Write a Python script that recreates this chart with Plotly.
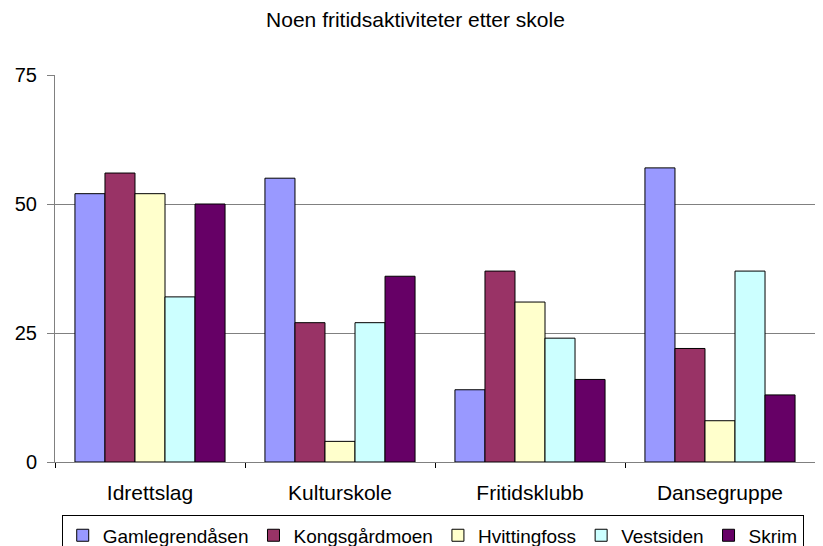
import plotly.graph_objects as go

categories = ["Idrettslag", "Kulturskole", "Fritidsklubb", "Dansegruppe"]

gamlegrendasen = [52, 55, 14, 57]
kongsgardmoen = [56, 27, 37, 22]
hvittingfoss = [52, 4, 31, 8]
vestsiden = [32, 27, 24, 37]
skrim = [50, 36, 16, 13]

series = [
    ("Gamlegrendåsen", gamlegrendasen, "#9999FF"),
    ("Kongsgårdmoen", kongsgardmoen, "#993366"),
    ("Hvittingfoss", hvittingfoss, "#FFFFCC"),
    ("Vestsiden", vestsiden, "#CCFFFF"),
    ("Skrim", skrim, "#660066"),
]

fig = go.Figure()
for name, vals, color in series:
    fig.add_trace(go.Bar(
        name=name, x=categories, y=vals,
        marker=dict(color=color, line=dict(color="black", width=1)),
    ))

# page body has an 8px margin, so the figure is 8px smaller than the window
fig.update_layout(
    width=815, height=538,
    paper_bgcolor="white", plot_bgcolor="white",
    font=dict(family="Liberation Sans, Arial, sans-serif", color="black", size=20),
    title=dict(text="Noen fritidsaktiviteter etter skole", x=0.5, xanchor="center",
               y=0.978, yanchor="middle", font=dict(size=21)),
    margin=dict(l=47, r=8, t=67, b=84, autoexpand=False),
    barmode="group", bargap=0.21, bargroupgap=0,
    showlegend=True,
    legend=dict(orientation="h", x=0.497, xanchor="center", y=-0.138, yanchor="top",
                bordercolor="black", borderwidth=1, font=dict(size=19),
                itemwidth=30, tracegroupgap=0),
)
fig.update_xaxes(
    showline=True, linecolor="#808080", linewidth=1,
    ticks="outside", tickson="boundaries", ticklen=5, tickcolor="black",
    ticklabelstandoff=12,
    tickfont=dict(size=21),
)
fig.update_yaxes(
    range=[0, 75], tickvals=[0, 25, 50, 75],
    showgrid=True, gridcolor="#808080", gridwidth=1,
    showline=True, linecolor="#808080", linewidth=1,
    ticks="outside", ticklen=7, tickcolor="#808080",
    ticklabelstandoff=6,
    tickfont=dict(size=20), zeroline=False,
)

fig.write_html("out.html")
